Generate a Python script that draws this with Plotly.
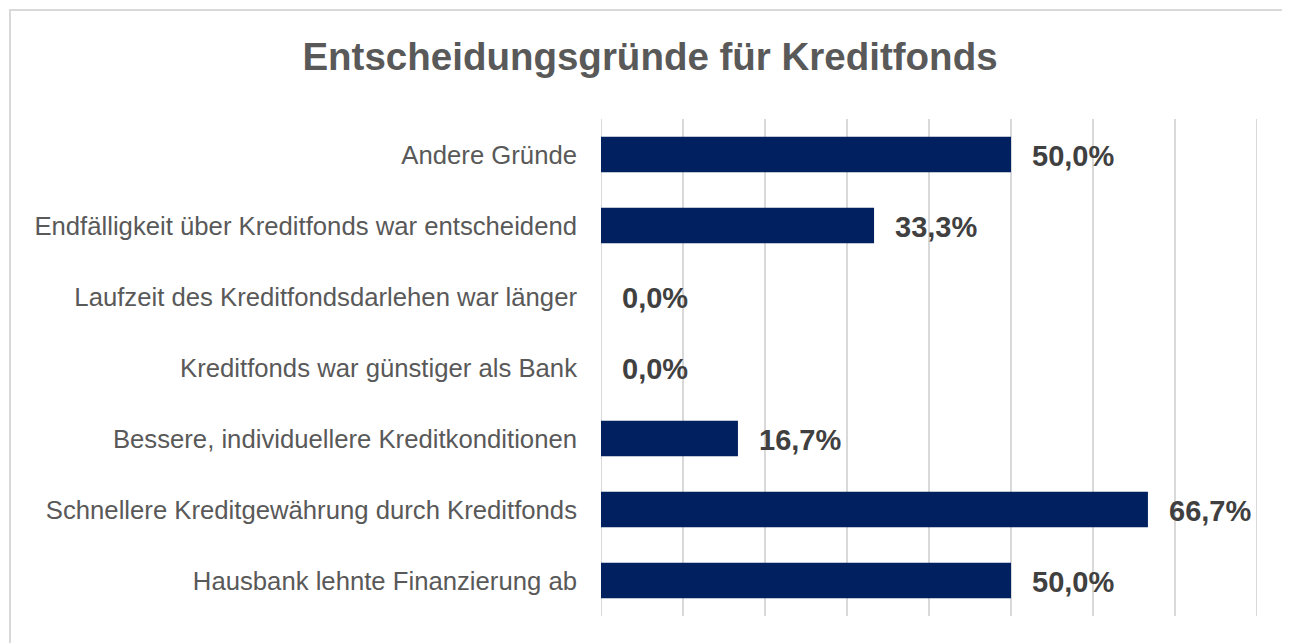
import plotly.graph_objects as go

categories = [
    "Andere Gründe",
    "Endfälligkeit über Kreditfonds war entscheidend",
    "Laufzeit des Kreditfondsdarlehen war länger",
    "Kreditfonds war günstiger als Bank",
    "Bessere, individuellere Kreditkonditionen",
    "Schnellere Kreditgewährung durch Kreditfonds",
    "Hausbank lehnte Finanzierung ab",
]
values = [50.0, 33.3, 0.0, 0.0, 16.7, 66.7, 50.0]
labels = [f"{v:.1f}%".replace(".", ",") for v in values]

OFF = 8  # default body margin of the html page
W, H = 1290 - OFF, 643 - OFF
L, T = 601 - OFF, 119 - OFF
R = W - (1257 - OFF)
B = H - (616 - OFF)
pw, ph = W - L - R, H - T - B


def px_x(p):
    return (p - OFF - L) / pw


def px_y(p):
    return (H - B - (p - OFF)) / ph


fig = go.Figure(go.Bar(
    x=values, y=categories, orientation="h",
    marker=dict(color="#002060", line=dict(width=0)),
    hoverinfo="skip",
))

for c, v, t in zip(categories, values, labels):
    fig.add_annotation(x=v, y=c, text=f"<b>{t}</b>", showarrow=False,
                       xanchor="left", yanchor="middle", xshift=19, yshift=-1,
                       font=dict(family="Liberation Sans, Arial", size=29, color="#404040"))

# grid lines at the range edges
for gx in (0, 80):
    fig.add_shape(type="line", xref="x", yref="paper", x0=gx, x1=gx, y0=0, y1=1,
                  line=dict(color="#d9d9d9", width=2), layer="below")

# outer chart border
fig.add_shape(type="rect", xref="paper", yref="paper",
              x0=px_x(10), x1=px_x(1288), y0=px_y(680), y1=px_y(10),
              line=dict(color="#d9d9d9", width=2), fillcolor="rgba(0,0,0,0)", layer="below")

fig.update_layout(
    width=W, height=H,
    margin=dict(l=L, r=R, t=T, b=B),
    paper_bgcolor="white", plot_bgcolor="white",
    bargap=0.5,
    showlegend=False,
    title=dict(text="<b>Entscheidungsgründe für Kreditfonds</b>",
               x=(650 - OFF) / W, xanchor="center", y=1 - (57 - OFF) / H, yanchor="middle",
               yref="container",
               font=dict(family="Liberation Sans, Arial", size=38.5, color="#595959")),
    xaxis=dict(range=[0, 80], dtick=10, showticklabels=False, showgrid=True,
               gridcolor="#d9d9d9", gridwidth=2, zeroline=False, showline=False,
               fixedrange=True),
    yaxis=dict(autorange="reversed", showgrid=False, showline=False,
               ticks="", ticklabelstandoff=23,
               tickfont=dict(family="Liberation Sans, Arial", size=25.7, color="#595959")),
)

fig.write_html("out.html")
